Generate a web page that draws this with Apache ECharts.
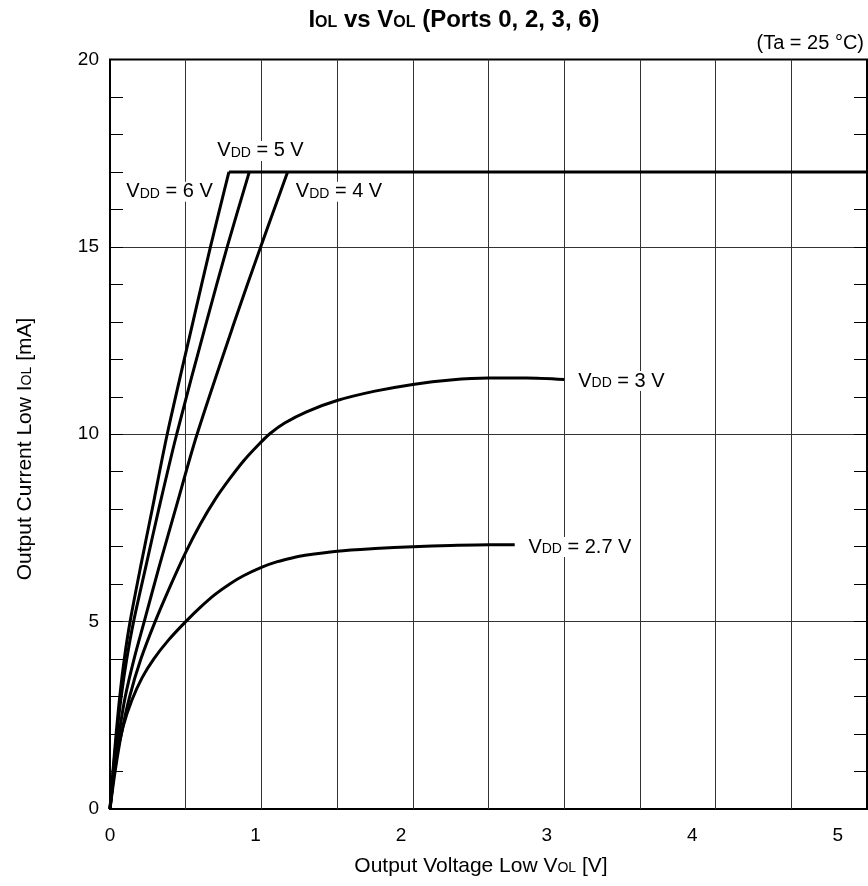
<!DOCTYPE html>
<html>
<head>
<meta charset="utf-8">
<script src="https://cdn.jsdelivr.net/npm/echarts@6/dist/echarts.min.js"></script>
<style>
html,body{margin:0;padding:0;background:#fff;}
#chart{width:868px;height:886px;}
</style>
</head>
<body>
<div id="chart"></div>
<script>
// ---- data (Output Voltage Low VOL [V] vs Output Current Low IOL [mA]) ----
const xTickValues = [0, 1, 2, 3, 4, 5];
const yTickValues = [0, 5, 10, 15, 20];

const vol6V = [0, 0.02, 0.042, 0.067, 0.098, 0.138, 0.212, 0.29, 0.393, 0.57, 0.69, 0.817];
const iol6V = [0, 1, 2, 3, 4, 5, 6.5, 8, 10, 13, 15, 17];

const vol5V = [0, 0.022, 0.047, 0.077, 0.115, 0.162, 0.248, 0.335, 0.458, 0.663, 0.805, 0.957];
const iol5V = [0, 1, 2, 3, 4, 5, 6.5, 8, 10, 13, 15, 17];

const vol4V = [0, 0.028, 0.062, 0.105, 0.165, 0.235, 0.34, 0.45, 0.598, 0.855, 1.035, 1.22];
const iol4V = [0, 1, 2, 3, 4, 5, 6.5, 8, 10, 13, 15, 17];

const vol3V = [0, 0.035, 0.078, 0.135, 0.212, 0.31, 0.42, 0.52, 0.62, 0.72, 0.82, 0.92, 1.02, 1.1, 1.2, 1.35, 1.56, 1.82, 2.08, 2.34, 2.6, 2.86, 3.12];
const iol3V = [0, 1, 2, 3, 4, 5, 6.0, 6.85, 7.6, 8.25, 8.8, 9.3, 9.72, 10.02, 10.3, 10.6, 10.9, 11.15, 11.33, 11.45, 11.5, 11.5, 11.46];

const vol27V = [0, 0.04, 0.09, 0.15, 0.22, 0.3, 0.4, 0.52, 0.62, 0.72, 0.82, 0.92, 1.04, 1.15, 1.25, 1.34, 1.56, 1.82, 2.08, 2.34, 2.6, 2.78];
const iol27V = [0, 1.3, 2.2, 2.9, 3.5, 4.0, 4.5, 5.0, 5.38, 5.72, 6.0, 6.23, 6.45, 6.6, 6.7, 6.77, 6.88, 6.95, 7.0, 7.03, 7.05, 7.05];

const limitVol = [0.817, 5.2];
const limitIol = [17, 17];

const seriesNames = ['VDD = 6 V', 'VDD = 5 V', 'VDD = 4 V', 'VDD = 3 V', 'VDD = 2.7 V'];
const vddText = ['6 V', '5 V', '4 V', '3 V', '2.7 V'];

// ---- helpers ----
const FONT = 'Liberation Sans, Arial, Helvetica, sans-serif';
function pairs(xs, ys) { return xs.map((x, i) => [x, ys[i]]); }

const vddRich = {
  v: { fontSize: 20, fontFamily: FONT, color: '#000' },
  s: { fontSize: 14, fontFamily: FONT, color: '#000', verticalAlign: 'bottom', padding: [0, 0, 1, 0] }
};
const tickRich = { t: { fontSize: 19, fontFamily: FONT, color: '#000' } };

function curve(name, xs, ys, labelText, labelCoord) {
  return {
    name: name,
    type: 'line',
    xAxisIndex: 1,
    yAxisIndex: 0,
    data: pairs(xs, ys),
    showSymbol: false,
    symbol: 'none',
    smooth: 0.3,
    lineStyle: { color: '#000', width: 3 },
    z: 3,
    markPoint: {
      symbol: 'rect',
      symbolSize: 1,
      itemStyle: { color: 'rgba(0,0,0,0)' },
      silent: true,
      label: {
        show: true,
        position: 'inside',
        formatter: '{v|V}{s|DD}{v| = ' + labelText + '}',
        rich: vddRich,
        backgroundColor: '#fff',
        padding: [0, 2, 0, 2]
      },
      data: [{ coord: labelCoord }]
    }
  };
}

function tickAxis(pos) {
  return {
    type: 'value', min: 0, max: 20, interval: 1, position: pos,
    axisLine: { show: false },
    axisTick: { show: true, inside: true, length: 13, lineStyle: { color: '#000', width: 1 } },
    axisLabel: { show: false },
    splitLine: { show: false }
  };
}

const chart = echarts.init(document.getElementById('chart'), null, { renderer: 'canvas' });

const option = {
  animation: false,
  backgroundColor: '#fff',
  textStyle: { fontFamily: FONT, fontSize: 19, color: '#000' },
  grid: {
    left: 110, right: 1, top: 59.5, bottom: 77,
    show: true, borderColor: '#000', borderWidth: 2, backgroundColor: 'transparent'
  },
  xAxis: [
    {
      type: 'value', min: 0, max: 5.2, interval: 0.52, position: 'bottom',
      axisLine: { show: false }, axisTick: { show: false }, axisLabel: { show: false },
      splitLine: { show: true, showMinLine: false, showMaxLine: false, lineStyle: { color: '#333', width: 1 } }
    },
    {
      type: 'value', min: 0, max: 5.2, interval: 1, position: 'bottom',
      axisLine: { show: false }, axisTick: { show: false }, splitLine: { show: false },
      axisLabel: {
        show: true, margin: 17, fontSize: 19, fontFamily: FONT, color: '#000',
        showMaxLabel: false, rich: tickRich,
        formatter: function (v) { return xTickValues.indexOf(v) >= 0 ? '{t|' + v + '}' : ''; }
      }
    }
  ],
  yAxis: [
    {
      type: 'value', min: 0, max: 20, interval: 5, position: 'left',
      axisLine: { show: false },
      axisTick: { show: false },
      axisLabel: {
        margin: 11, fontSize: 19, fontFamily: FONT, color: '#000', rich: tickRich,
        formatter: function (v) { return yTickValues.indexOf(v) >= 0 ? '{t|' + v + '}' : ''; }
      },
      splitLine: { show: true, showMinLine: false, showMaxLine: false, lineStyle: { color: '#333', width: 1 } }
    },
    tickAxis('left'),
    tickAxis('right')
  ],
  series: [
    {
      name: 'limit', type: 'line', xAxisIndex: 1, yAxisIndex: 0,
      data: pairs(limitVol, limitIol), showSymbol: false, symbol: 'none',
      lineStyle: { color: '#000', width: 3 }, z: 3
    },
    curve(seriesNames[0], vol6V, iol6V, vddText[0], [0.409, 16.47]),
    curve(seriesNames[1], vol5V, iol5V, vddText[1], [1.034, 17.56]),
    curve(seriesNames[2], vol4V, iol4V, vddText[2], [1.573, 16.47]),
    curve(seriesNames[3], vol3V, iol3V, vddText[3], [3.513, 11.42]),
    curve(seriesNames[4], vol27V, iol27V, vddText[4], [3.228, 6.99])
  ],
  graphic: [
    {
      type: 'text', x: 454, y: 20, z: 10,
      style: {
        text: '{b|I}{bs|OL}{b| vs V}{bs|OL}{b| (Ports 0, 2, 3, 6)}',
        align: 'center', verticalAlign: 'middle',
        rich: {
          b: { fontSize: 24, fontWeight: 'bold', fontFamily: FONT, fill: '#000' },
          bs: { fontSize: 16, fontWeight: 'bold', fontFamily: FONT, fill: '#000', verticalAlign: 'bottom', padding: [0, 0, 1, 0] }
        }
      }
    },
    {
      type: 'text', x: 864, y: 43, z: 10,
      style: {
        text: '(Ta = 25 °C)', align: 'right', verticalAlign: 'middle',
        fontSize: 20, fontFamily: FONT, fill: '#000'
      }
    },
    {
      type: 'text', x: 481, y: 866, z: 10,
      style: {
        text: '{n|Output Voltage Low V}{s|OL}{n| [V]}',
        align: 'center', verticalAlign: 'middle',
        rich: {
          n: { fontSize: 21, fontFamily: FONT, fill: '#000' },
          s: { fontSize: 14, fontFamily: FONT, fill: '#000', verticalAlign: 'bottom', padding: [0, 0, 1, 0] }
        }
      }
    },
    {
      type: 'text', x: 25, y: 449, rotation: Math.PI / 2, z: 10,
      style: {
        text: '{n|Output Current Low I}{s|OL}{n| [mA]}',
        align: 'center', verticalAlign: 'middle',
        rich: {
          n: { fontSize: 21, fontFamily: FONT, fill: '#000' },
          s: { fontSize: 14, fontFamily: FONT, fill: '#000', verticalAlign: 'bottom', padding: [0, 0, 1, 0] }
        }
      }
    }
  ]
};

chart.setOption(option);
</script>
</body>
</html>
